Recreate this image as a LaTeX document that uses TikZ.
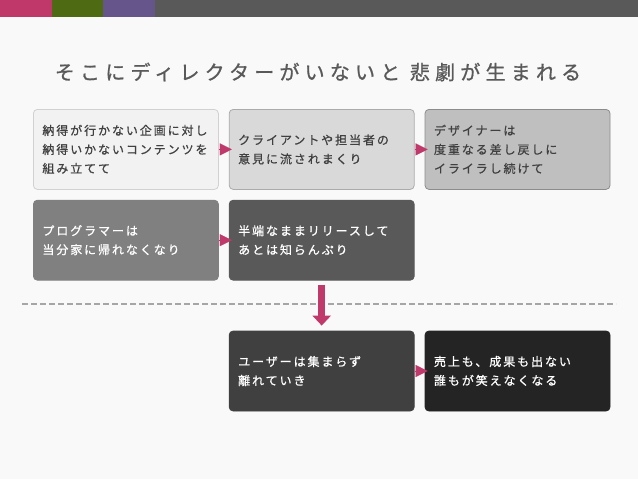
\documentclass[tikz,border=0pt]{standalone}
\usepackage{fontspec}
\usepackage{xcolor}
\usetikzlibrary{arrows.meta,positioning}
\newfontfamily\jpfont{Noto Sans CJK JP}[LetterSpace=16, FakeBold=0.8]
\newfontfamily\jptitlefont{Noto Sans CJK JP}[LetterSpace=26, FakeBold=0.9]
\definecolor{accent}{HTML}{C0396B}
\definecolor{barred}{HTML}{C0386A}
\definecolor{bargreen}{HTML}{4E6B14}
\definecolor{barpurple}{HTML}{66558A}
\definecolor{bargray}{HTML}{595959}
\definecolor{pagebg}{HTML}{F9F9F9}
\definecolor{titlegray}{HTML}{595959}
\definecolor{textdark}{HTML}{404040}

\begin{document}
\begin{tikzpicture}[x=1pt, y=-1pt, >=Latex, node distance=10pt and 10pt,
  every node/.style={font=\jpfont\fontsize{12}{19}\selectfont},
  box/.style={draw, rounded corners=4pt, line width=0.8pt, minimum width=185pt, minimum height=80pt,
    text width=167pt, inner xsep=9pt, align=left},
  flow/.style={-{Triangle[length=12pt,width=12pt]}, accent, line width=0.1pt, shorten >=-3pt},
  downflow/.style={-{Triangle[length=10pt,width=18pt]}, accent, line width=7pt, shorten <=4pt, shorten >=5pt}]
  % page and colour bar
  \fill[pagebg] (0,0) rectangle (638,479);
  \fill[barred] (0,0) rectangle (52,17);
  \fill[bargreen] (52,0) rectangle (103,17);
  \fill[barpurple] (103,0) rectangle (155,17);
  \fill[bargray] (155,0) rectangle (638,17);
  \node (title) at (318,72) [font=\jptitlefont\fontsize{20}{22}\selectfont, text=titlegray] {そこにディレクターがいないと 悲劇が生まれる};
  % boxes
  \node (plan) [box, anchor=north west, fill=black!5, draw=black!18, text=textdark] at (33,109) {納得が行かない企画に対し\\納得いかないコンテンツを\\組み立てて};
  \node (client) [box, right=of plan, fill=black!15, draw=black!33, text=textdark] {クライアントや担当者の\\意見に流されまくり};
  \node (designer) [box, right=of client, fill=black!25, draw=black!45, text=textdark] {デザイナーは\\度重なる差し戻しに\\イライラし続けて};
  \node (programmer) [box, below=of plan, fill=black!50, draw=black!50, text=white] {プログラマーは\\当分家に帰れなくなり};
  \node (release) [box, right=of programmer, fill=black!65, draw=black!65, text=white] {半端なままリリースして\\あとは知らんぷり};
  \node (users) [box, below=50pt of release, fill=black!75, draw=black!75, text=white] {ユーザーは集まらず\\離れていき};
  \node (sales) [box, right=of users, fill=black!86, draw=black!86, text=white] {売上も、成果も出ない\\誰もが笑えなくなる};
  % separator
  \draw[black!35, line width=2.5pt, dash pattern=on 6pt off 3pt] (22,304) -- (616,304);
  % arrows
  \draw[flow] (plan) -- (client);
  \draw[flow] (client) -- (designer);
  \draw[flow] (programmer) -- (release);
  \draw[flow] (users) -- (sales);
  \draw[downflow] (release) -- (users);
\end{tikzpicture}
\end{document}
